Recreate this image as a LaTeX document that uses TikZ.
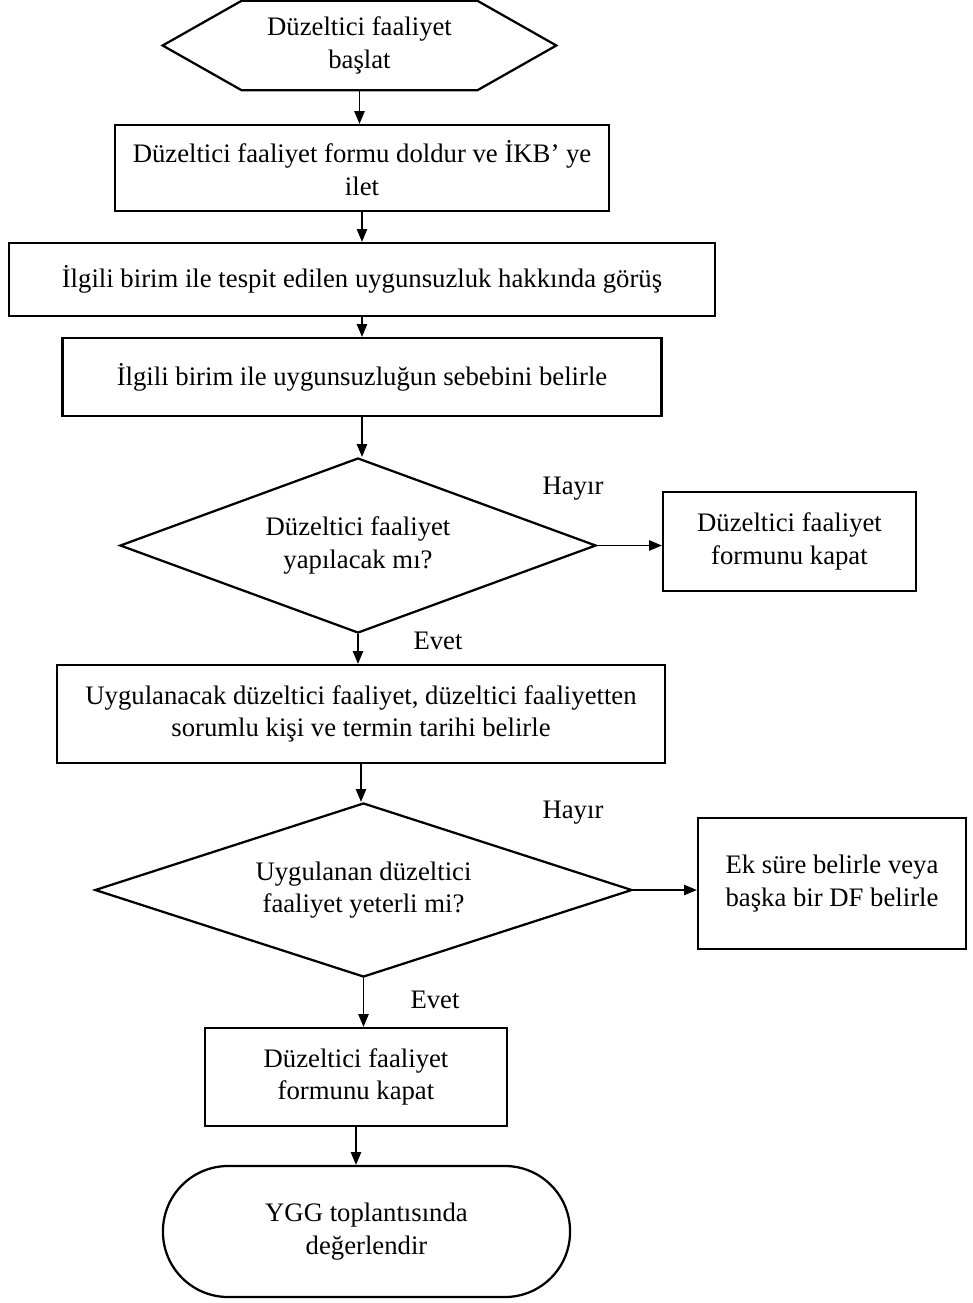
\documentclass[tikz,border=0pt]{standalone}
\usepackage{fontspec}
\setmainfont{Liberation Serif}
\usetikzlibrary{arrows.meta,shapes.geometric}
\begin{document}
\begin{tikzpicture}[x=0.025cm,y=-0.025cm,
        every node/.append style={font=\fontsize{19}{23}\selectfont, align=center},
        box/.style={draw, line width=1.6pt, inner sep=0pt},
        dec/.style={draw, diamond, line width=1.6pt, inner sep=0pt},
        arr/.style={line width=0.9pt, -{Triangle[length=0.32cm,width=0.26cm]}}]
        \useasboundingbox (0,0) rectangle (973,1303);
        \node [inner sep=0pt, minimum width=9.825cm, minimum height=2.225cm] (start) at (359.5,45.5) {Düzeltici faaliyet\\başlat};
        \draw [line width=1.6pt] (start.west) -- ([xshift=1.975cm]start.north west) -- ([xshift=-1.975cm]start.north east) -- (start.east) -- ([xshift=-1.975cm]start.south east) -- ([xshift=1.975cm]start.south west) -- cycle;
        \node [box, minimum width=12.35cm, minimum height=2.15cm] (form) at (362,168) {Düzeltici faaliyet formu doldur ve İKB’ ye\\ilet};
        \node [box, minimum width=17.65cm, minimum height=1.825cm] (view) at (362,279.5) {İlgili birim ile tespit edilen uygunsuzluk hakkında görüş};
        \node [box, minimum width=14.975cm, minimum height=1.95cm] (cause) at (362,377) {İlgili birim ile uygunsuzluğun sebebini belirle};
        \node [dec, aspect=2.72, minimum width=11.9cm, minimum height=4.375cm] (q1) at (358,545.5) {Düzeltici faaliyet\\yapılacak mı?};
        \node [box, minimum width=6.325cm, minimum height=2.475cm] (close1) at (789.5,541.5) {Düzeltici faaliyet\\formunu kapat};
        \node [box, minimum width=15.2cm, minimum height=2.45cm] (plan) at (361,714) {Uygulanacak düzeltici faaliyet, düzeltici faaliyetten\\sorumlu kişi ve termin tarihi belirle};
        \node [dec, aspect=3.09, minimum width=13.425cm, minimum height=4.35cm] (q2) at (363.5,890) {Uygulanan düzeltici\\faaliyet yeterli mi?};
        \node [box, minimum width=6.7cm, minimum height=3.275cm] (extra) at (832,883.5) {Ek süre belirle veya\\başka bir DF belirle};
        \node [box, minimum width=7.55cm, minimum height=2.45cm] (close2) at (356,1077) {Düzeltici faaliyet\\formunu kapat};
        \node [box, rounded corners=1.63cm, minimum width=10.175cm, minimum height=3.275cm] (ygg) at (366.5,1231.5) {YGG toplantısında\\değerlendir};
        \node (no1) at (573,489) {Hayır};
        \node (yes1) at (438,641) {Evet};
        \node (no2) at (573,813) {Hayır};
        \node (yes2) at (435,1000) {Evet};
        \draw [arr] (start.south) -- (start.south |- form.north);
        \draw [arr] (form.south) -- (form.south |- view.north);
        \draw [arr] (view.south) -- (view.south |- cause.north);
        \draw [arr] (cause.south) -- (cause.south |- q1.north);
        \draw [arr] (q1.east) -- (q1.east -| close1.west);
        \draw [arr] (q1.south) -- (q1.south |- plan.north);
        \draw [arr] (plan.south) -- (plan.south |- q2.north);
        \draw [arr] (q2.east) -- (q2.east -| extra.west);
        \draw [arr] (q2.south) -- (q2.south |- close2.north);
        \draw [arr] (close2.south) -- (close2.south |- ygg.north);
    \end{tikzpicture}
\end{document}
